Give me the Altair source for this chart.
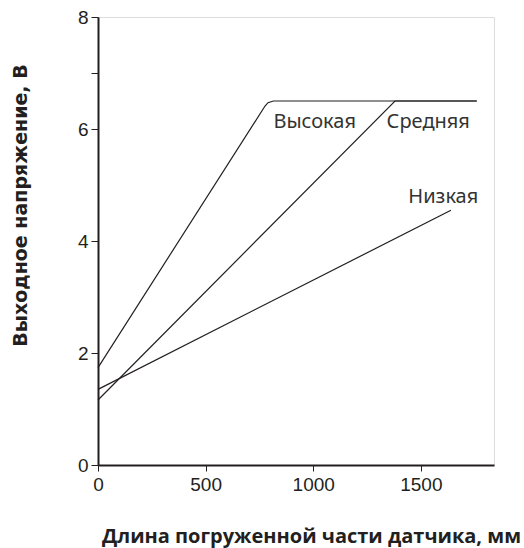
import altair as alt
import pandas as pd

# Series data
high_x = [0, 776, 790, 815, 1760]
high_y = [1.74, 6.41, 6.47, 6.5, 6.5]
mid_x = [0, 1380, 1760]
mid_y = [1.16, 6.5, 6.5]
low_x = [0, 1640]
low_y = [1.35, 4.55]

series_names = ["Высокая", "Средняя", "Низкая"]
label_x = [815, 1341, 1442]
label_y = [6.01, 6.01, 4.67]

x_ticks = [0, 500, 1000, 1500]
y_ticks = [0, 2, 4, 6, 7, 8]

rows = []
for name, xs, ys in zip(series_names, [high_x, mid_x, low_x], [high_y, mid_y, low_y]):
    for i, (a, b) in enumerate(zip(xs, ys)):
        rows.append({"series": name, "order": i, "x": a, "y": b})
lines_df = pd.DataFrame(rows)
labels_df = pd.DataFrame({"series": series_names, "x": label_x, "y": label_y})

ink = "#231f20"

x_enc = alt.X(
    "x:Q",
    scale=alt.Scale(domain=[0, 1840], nice=False, zero=False),
    axis=alt.Axis(
        values=x_ticks,
        format="d",
        title="Длина погруженной части датчика, мм",
        titleFont="Open Sans",
        titleFontWeight="bold",
        titleFontSize=20,
        titleColor=ink,
        titleX=213,
        titleY=77,
        titleAlign="center",
        titleBaseline="alphabetic",
        labelFont="Liberation Sans",
        labelFontSize=19,
        labelColor=ink,
        labelPadding=4,
        tickSize=6,
        tickColor=ink,
        domainColor=ink,
        domainWidth=2,
        grid=False,
        labelFlush=False,
    ),
)
y_enc = alt.Y(
    "y:Q",
    scale=alt.Scale(domain=[0, 8], nice=False, zero=False),
    axis=alt.Axis(
        values=y_ticks,
        format="d",
        labelExpr="datum.value == 7 ? '' : datum.label",
        title="Выходное напряжение, В",
        titleFont="DejaVu Sans",
        titleFontWeight="bold",
        titleFontSize=19,
        titleColor=ink,
        titleAngle=270,
        titleX=-72,
        titleY=188,
        titleAlign="center",
        titleBaseline="alphabetic",
        labelFont="Liberation Sans",
        labelFontSize=19,
        labelColor=ink,
        labelPadding=3,
        tickSize=7,
        tickColor=ink,
        domainColor=ink,
        domainWidth=2,
        grid=False,
        labelFlush=False,
    ),
)

lines = alt.Chart(lines_df).mark_line(color=ink, strokeWidth=1.2).encode(
    x=x_enc, y=y_enc, detail="series:N", order="order:Q"
)

texts = alt.Chart(labels_df).mark_text(
    align="left", baseline="alphabetic", font="Noto Sans", fontSize=20, color="#333333"
).encode(x="x:Q", y="y:Q", text="series:N")

chart = (
    alt.layer(lines, texts)
    .properties(
        width=396,
        height=448,
        autosize=alt.AutoSizeParams(type="none"),
        padding={"left": 98, "top": 17, "right": 30, "bottom": 83},
    )
    .configure_view(stroke=None)
    .configure(background="white")
)

chart.save("out.html", embed_options={"renderer": "svg", "actions": False})
